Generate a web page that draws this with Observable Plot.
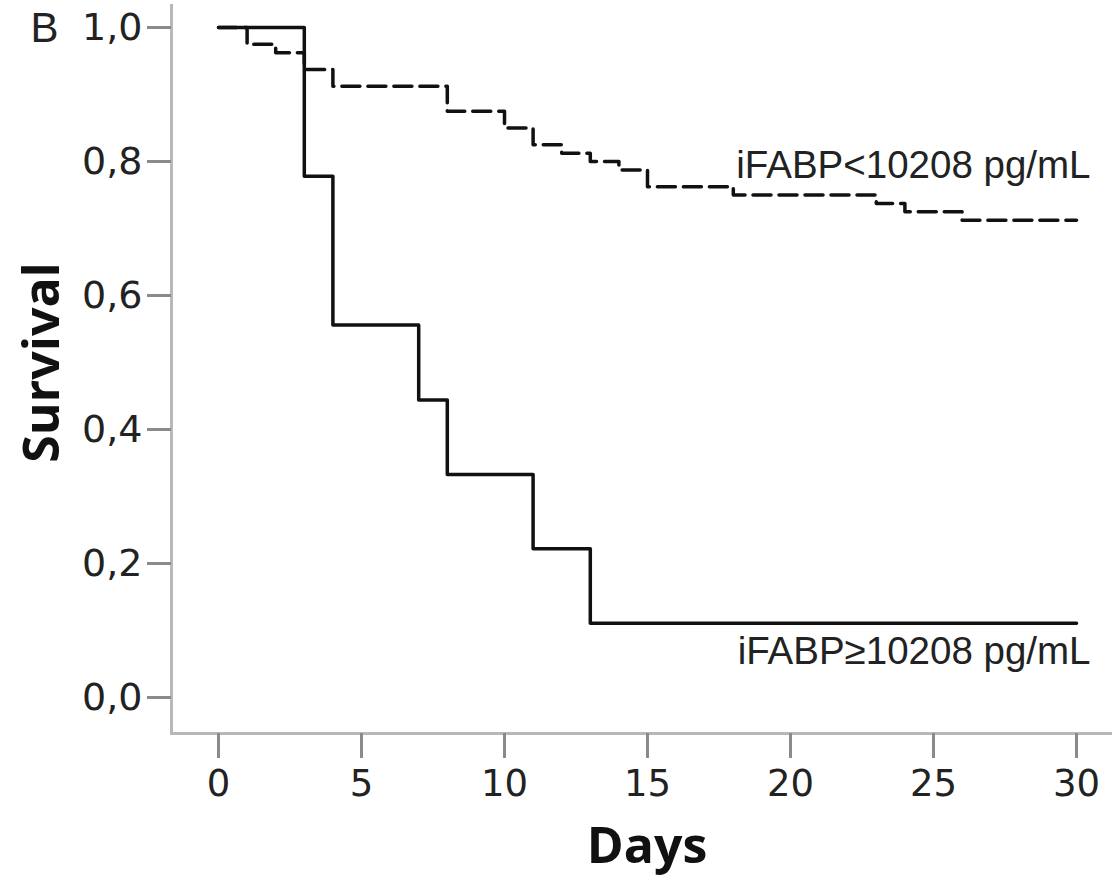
<!DOCTYPE html>
<html>
<head>
<meta charset="utf-8">
<script src="https://cdn.jsdelivr.net/npm/d3@7"></script>
<script src="https://cdn.jsdelivr.net/npm/@observablehq/plot@0.6"></script>
<style>
  html, body { margin: 0; padding: 0; background: #fff; }
</style>
</head>
<body>
<div id="chart"></div>
<script>
// Kaplan-Meier step data
const daysHigh = [0, 3, 4, 7, 8, 11, 13, 30];
const survHigh = [1, 0.778, 0.556, 0.444, 0.333, 0.222, 0.111, 0.111];

const daysLow = [0, 1, 2, 3, 4, 8, 10, 11, 12, 13, 14, 15, 18, 23, 24, 26, 30];
const survLow = [1, 0.975, 0.9625, 0.9375, 0.9125, 0.875, 0.85, 0.825, 0.8125, 0.8, 0.7875, 0.7625, 0.75, 0.7375, 0.725, 0.7125, 0.7125];

const xTicks = [0, 5, 10, 15, 20, 25, 30];
const yTicks = [0, 0.2, 0.4, 0.6, 0.8, 1.0];

const labelLow = "iFABP<10208 pg/mL";
const labelHigh = "iFABP\u226510208 pg/mL";
const xTitle = "Days";
const yTitle = "Survival";
const panelLetter = "B";

const highData = daysHigh.map((d, i) => ({day: d, surv: survHigh[i]}));
const lowData = daysLow.map((d, i) => ({day: d, surv: survLow[i]}));

const plot = Plot.plot({
  width: 1112,
  height: 877,
  marginLeft: 171,
  marginRight: 0,
  marginTop: 5,
  marginBottom: 144,
  insetLeft: 47,
  insetRight: 36,
  insetTop: 22,
  insetBottom: 36,
  style: {fontFamily: "DejaVu Sans", background: "#fff"},
  x: {domain: [0, 30]},
  y: {domain: [0, 1]},
  marks: [
    Plot.frame({anchor: "left", stroke: "#b8b8b8", strokeWidth: 3, strokeOpacity: 1}),
    Plot.frame({anchor: "bottom", stroke: "#b8b8b8", strokeWidth: 3, strokeOpacity: 1}),
    Plot.axisX({
      ticks: xTicks, tickFormat: d => String(d), tickSize: 25, tickPadding: 11,
      stroke: "#8a8a8a", strokeWidth: 3, strokeOpacity: 1,
      fill: "#222", fontSize: 37, fontFamily: "DejaVu Sans", label: null
    }),
    Plot.axisY({
      ticks: yTicks, tickFormat: d => d.toFixed(1).replace(".", ","), tickSize: 24, tickPadding: 5,
      stroke: "#8a8a8a", strokeWidth: 3, strokeOpacity: 1,
      fill: "#222", fontSize: 38, fontFamily: "DejaVu Sans", label: null
    }),
    Plot.line(lowData, {
      x: "day", y: "surv", curve: "step-after",
      stroke: "#111", strokeWidth: 3.5, strokeDasharray: "18,8"
    }),
    Plot.line(highData, {
      x: "day", y: "surv", curve: "step-after",
      stroke: "#111", strokeWidth: 3.5
    }),
    Plot.text([{x: daysLow[daysLow.length - 1], y: survLow[survLow.length - 1], t: labelLow}], {
      x: "x", y: "y", text: "t", textAnchor: "end", lineAnchor: "middle",
      dx: 14, dy: -54, fontSize: 38.5, fontFamily: "Liberation Sans", fill: "#222"
    }),
    Plot.text([{x: daysHigh[daysHigh.length - 1], y: survHigh[survHigh.length - 1], t: labelHigh}], {
      x: "x", y: "y", text: "t", textAnchor: "end", lineAnchor: "middle",
      dx: 14, dy: 29, fontSize: 38.5, fontFamily: "Liberation Sans", fill: "#222"
    }),
    Plot.text([yTitle], {
      frameAnchor: "left", rotate: -90, dx: -129, dy: -7, textAnchor: "middle",
      fontSize: 50, fontWeight: "bold", fontFamily: "Open Sans", fill: "#111", lineAnchor: "middle"
    }),
    Plot.text([xTitle], {
      frameAnchor: "bottom", dx: 5, dy: 113, textAnchor: "middle",
      fontSize: 50, fontWeight: "bold", fontFamily: "Open Sans", fill: "#111", lineAnchor: "middle"
    }),
    Plot.text([panelLetter], {
      frameAnchor: "top-left", dx: -127, dy: 23, textAnchor: "middle",
      fontSize: 42, fontFamily: "Liberation Sans", fill: "#222", lineAnchor: "middle"
    })
  ]
});

document.getElementById("chart").appendChild(plot);
</script>
</body>
</html>
